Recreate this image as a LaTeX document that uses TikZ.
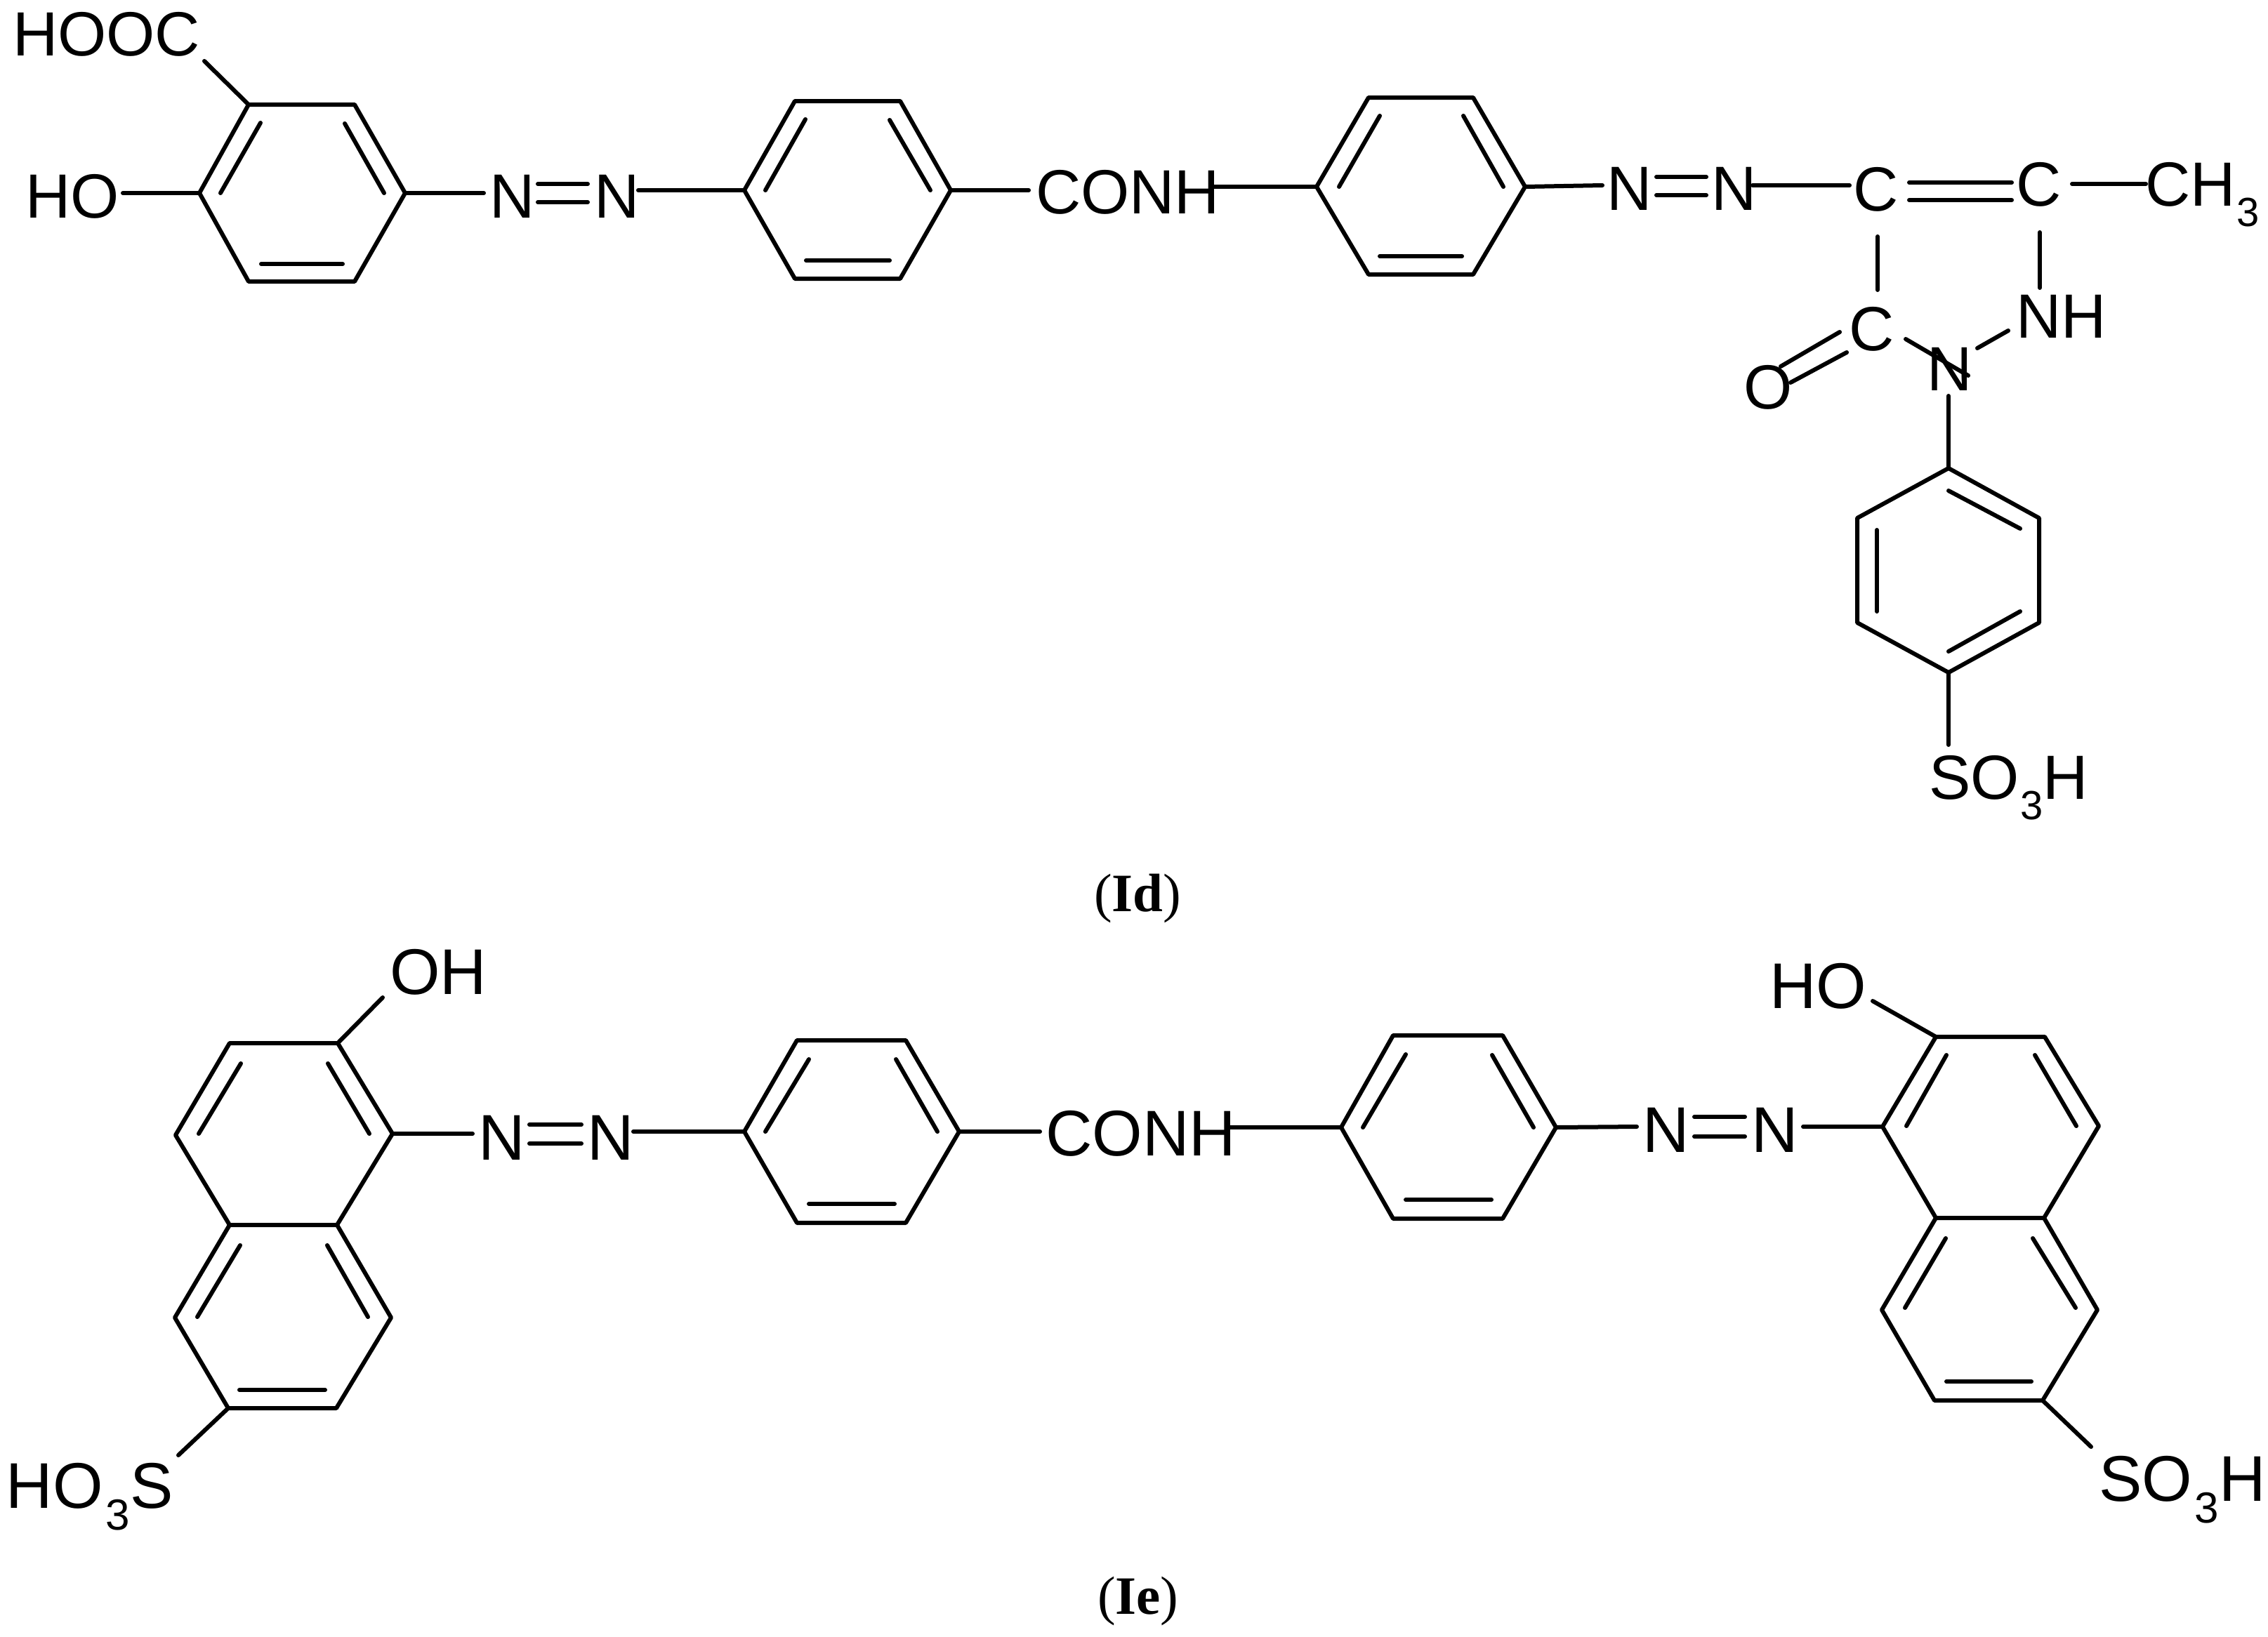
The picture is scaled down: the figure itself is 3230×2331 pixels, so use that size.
\documentclass[tikz,border=0pt]{standalone}
\usepackage{fontspec}
\setmainfont{Liberation Sans}
\newfontfamily\capfont{Liberation Serif}
\newcommand\subA{\kern2pt\raisebox{-29pt}{\fontsize{58}{58}\selectfont 3}}
\newcommand\subB{\kern4pt\raisebox{-31pt}{\fontsize{62}{62}\selectfont 3}}
\newcommand\linkat[5]{\coordinate (#1a) at (#2,#3); \coordinate (#1b) at (#4,#5); \draw[bond] (#1a) -- (#1b);}
\newcommand\pts[1]{\foreach \n/\x/\y in {#1} {\coordinate (\n) at (\x,\y);}}
\newcommand\hexa[6]{\draw[bond] (#1) -- (#2) -- (#3) -- (#4) -- (#5) -- (#6) -- cycle;}
\tikzset{
  bond/.style={line width=6pt,line cap=round,line join=round,black},
  labA/.style={anchor=base west,inner sep=0pt,outer sep=0pt,font=\fontsize{89}{89}\selectfont},
  labB/.style={anchor=base west,inner sep=0pt,outer sep=0pt,font=\fontsize{92}{92}\selectfont},
  capt/.style={anchor=base west,inner sep=0pt,outer sep=0pt,font=\capfont\fontsize{77}{77}\selectfont}
}
\begin{document}
\begin{tikzpicture}[x=1pt,y=-1pt]
\useasboundingbox (0,0) rectangle (3230,2331);
% ---------- Id ----------
\node[labA] (hooc) at (18,80) {HOOC};
\node[labA] (ho1) at (36,310) {HO};
\node[labA] (n1) at (697,310) {N};
\node[labA] (n2) at (846,310) {N};
\node[labA] (conh1) at (1475,304) {CONH};
\node[labA] (n3) at (2288,299) {N};
\node[labA] (n4) at (2437,299) {N};
\node[labA] (c1) at (2639,300) {C};
\node[labA] (c2) at (2871,293) {C};
\node[labA] (ch3) at (3055,293) {CH\subA};
\node[labA] (c3) at (2633,499) {C};
\node[labA] (nh) at (2871,481) {NH};
\node[labA] (n5) at (2744,556) {N};
\node[labA] (o1) at (2483,582) {O};
\node[labA] (so3h1) at (2747,1138) {SO\subA H};
\node[capt] (id) at (1558,1298) {(\textbf{Id})};
% ring 1
\pts{a1/354/149,a2/505/149,a3/577/275,a4/505/401,a5/354/401,a6/284/275}
\hexa{a1}{a2}{a3}{a4}{a5}{a6}
\linkat{i1}{371}{175}{314}{275}
\linkat{i2}{491}{176}{547}{275}
\linkat{i3}{372}{376}{488}{376}
\coordinate (e1) at (291,87); \draw[bond] (e1) -- (a1);
\coordinate (e2) at (175,275); \draw[bond] (e2) -- (a6);
\coordinate (e3) at (689,275); \draw[bond] (a3) -- (e3);
\linkat{d1}{766}{262}{837}{262}
\linkat{d2}{766}{288}{837}{288}
% ring 2
\pts{b1/1132/144,b2/1282/144,b3/1354/271,b4/1282/397,b5/1132/397,b6/1060/271}
\hexa{b1}{b2}{b3}{b4}{b5}{b6}
\linkat{i4}{1147}{170}{1090}{271}
\linkat{i5}{1267}{171}{1325}{271}
\linkat{i6}{1148}{371}{1267}{371}
\coordinate (e4) at (909,271); \draw[bond] (e4) -- (b6);
\coordinate (e5) at (1465,271); \draw[bond] (b3) -- (e5);
% ring 3
\pts{c31/1949/139,c32/2098/139,c33/2172/266,c34/2098/391,c35/1949/391,c36/1875/266}
\hexa{c31}{c32}{c33}{c34}{c35}{c36}
\linkat{i7}{1965}{165}{1907}{266}
\linkat{i8}{2084}{165}{2141}{266}
\linkat{i9}{1965}{365}{2082}{365}
\coordinate (e6) at (1725,266); \draw[bond] (e6) -- (c36);
\coordinate (e7) at (2282,264); \draw[bond] (c33) -- (e7);
\linkat{d3}{2359}{252}{2430}{252}
\linkat{d4}{2359}{278}{2430}{278}
% pyrazolone
\linkat{p1}{2496}{264}{2634}{264}
\linkat{p2}{2719}{260}{2865}{260}
\linkat{p3}{2719}{285}{2865}{285}
\linkat{p4}{2951}{262}{3056}{262}
\linkat{p5}{2674}{337}{2674}{413}
\linkat{p6}{2905}{331}{2905}{410}
\linkat{p7}{2714}{483}{2803}{535}
\linkat{p8}{2816}{496}{2860}{471}
\linkat{p9}{2536}{522}{2620}{473}
\linkat{p10}{2550}{545}{2630}{502}
% ring 4
\pts{f1/2775/667,f2/2904/738,f3/2904/887,f4/2775/958,f5/2645/887,f6/2645/738}
\hexa{f1}{f2}{f3}{f4}{f5}{f6}
\linkat{i10}{2775}{699}{2877}{753}
\linkat{i11}{2673}{755}{2673}{871}
\linkat{i12}{2877}{871}{2775}{928}
\coordinate (e8) at (2775,564); \draw[bond] (e8) -- (f1);
\coordinate (e9) at (2775,1061); \draw[bond] (f4) -- (e9);
% ---------- Ie ----------
\node[labB] (oh1) at (555,1416) {OH};
\node[labB] (n6) at (681,1652) {N};
\node[labB] (n7) at (836,1652) {N};
\node[labB] (ho3s) at (9,2148) {HO\subB S};
\node[labB] (conh2) at (1489,1646) {CONH};
\node[labB] (n8) at (2339,1641) {N};
\node[labB] (n9) at (2494,1641) {N};
\node[labB] (ho2) at (2520,1436) {HO};
\node[labB] (so3h2) at (2989,2138) {SO\subB H};
\node[capt] (ie) at (1563,2299) {(\textbf{Ie})};
% left naphthalene
\pts{g1/327/1486,g2/481/1486,g3/559/1615,g4/480/1745,g5/327/1745,g6/250/1617,g7/557/1877,g8/479/2006,g9/325/2006,g10/249/1877}
\hexa{g1}{g2}{g3}{g4}{g5}{g6}
\draw[bond] (g4) -- (g7) -- (g8) -- (g9) -- (g10) -- (g5);
\linkat{j1}{343}{1515}{283}{1615}
\linkat{j2}{467}{1515}{526}{1615}
\linkat{j3}{342}{1774}{281}{1876}
\linkat{j4}{466}{1774}{524}{1876}
\linkat{j5}{341}{1980}{463}{1980}
\coordinate (e10) at (545,1421); \draw[bond] (g2) -- (e10);
\coordinate (e11) at (673,1615); \draw[bond] (g3) -- (e11);
\coordinate (e12) at (254,2073); \draw[bond] (g9) -- (e12);
\linkat{d5}{754}{1602}{828}{1602}
\linkat{d6}{754}{1629}{828}{1629}
% ring 5
\pts{h1/1135/1482,h2/1290/1482,h3/1366/1612,h4/1290/1742,h5/1135/1742,h6/1060/1612}
\hexa{h1}{h2}{h3}{h4}{h5}{h6}
\linkat{j6}{1152}{1509}{1090}{1612}
\linkat{j7}{1276}{1509}{1335}{1612}
\linkat{j8}{1152}{1715}{1274}{1715}
\coordinate (e13) at (902,1612); \draw[bond] (e13) -- (h6);
\coordinate (e14) at (1481,1612); \draw[bond] (h3) -- (e14);
% ring 6
\pts{k1/1984/1475,k2/2140/1475,k3/2216/1606,k4/2140/1736,k5/1984/1736,k6/1910/1606}
\hexa{k1}{k2}{k3}{k4}{k5}{k6}
\linkat{j9}{2002}{1502}{1941}{1606}
\linkat{j10}{2125}{1503}{2184}{1606}
\linkat{j11}{2002}{1709}{2124}{1709}
\coordinate (e15) at (1750,1606); \draw[bond] (e15) -- (k6);
\coordinate (e16) at (2331,1605); \draw[bond] (k3) -- (e16);
\linkat{d7}{2413}{1591}{2485}{1591}
\linkat{d8}{2413}{1619}{2485}{1619}
% right naphthalene
\pts{m1/2757/1477,m2/2912/1477,m3/2989/1604,m4/2911/1735,m5/2757/1735,m6/2681/1605,m7/2987/1866,m8/2909/1995,m9/2755/1995,m10/2680/1866}
\hexa{m1}{m2}{m3}{m4}{m5}{m6}
\draw[bond] (m4) -- (m7) -- (m8) -- (m9) -- (m10) -- (m5);
\linkat{j12}{2772}{1503}{2715}{1604}
\linkat{j13}{2898}{1503}{2957}{1604}
\linkat{j14}{2771}{1764}{2713}{1863}
\linkat{j15}{2895}{1764}{2956}{1863}
\linkat{j16}{2772}{1968}{2893}{1968}
\coordinate (e17) at (2568,1605); \draw[bond] (e17) -- (m6);
\coordinate (e18) at (2667,1426); \draw[bond] (m1) -- (e18);
\coordinate (e19) at (2978,2061); \draw[bond] (m8) -- (e19);
\end{tikzpicture}
\end{document}
